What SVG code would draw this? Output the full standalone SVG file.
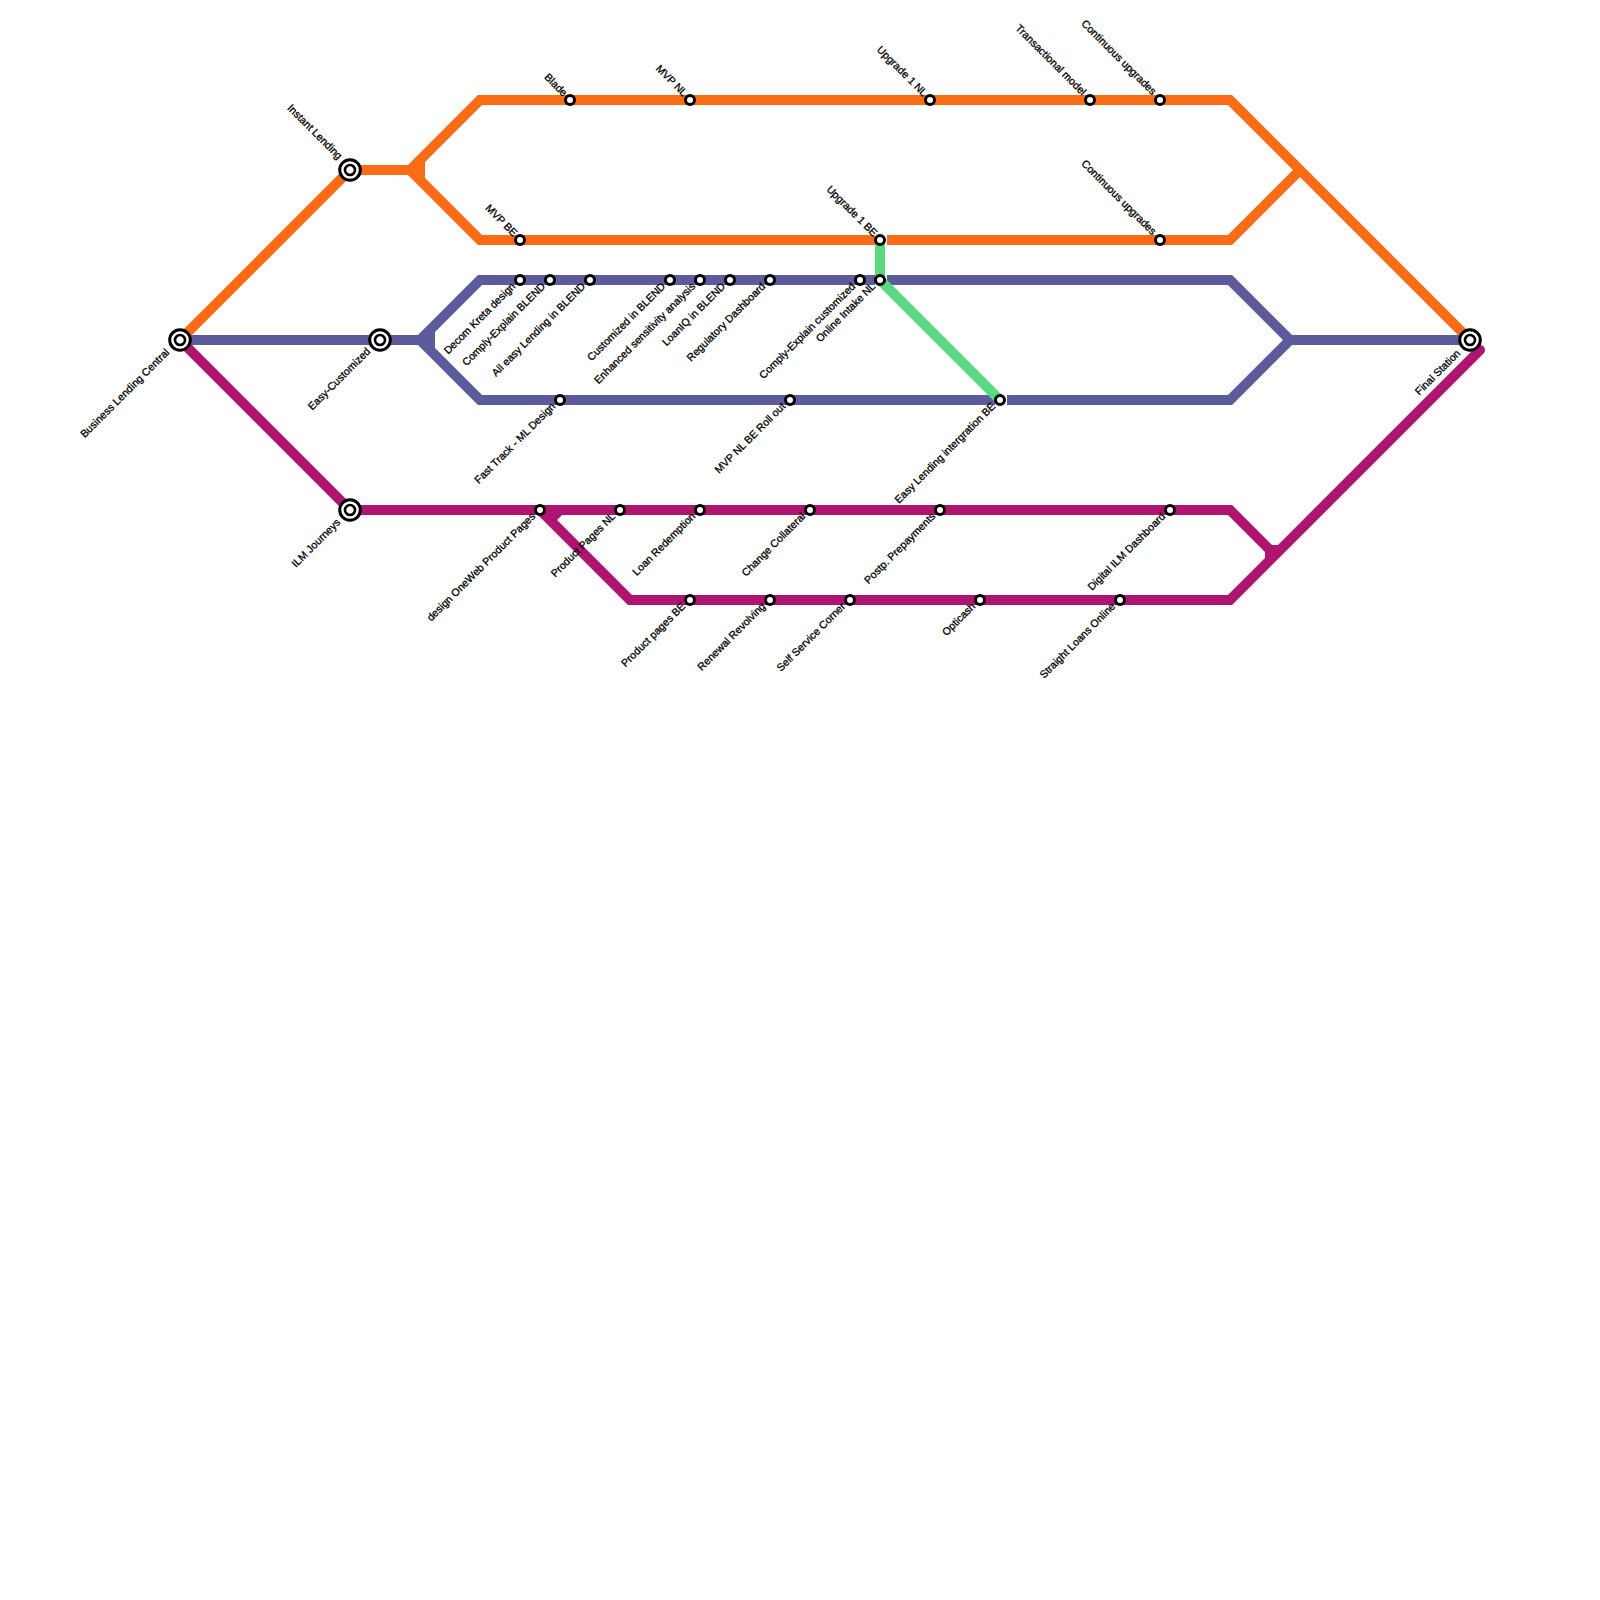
<svg xmlns="http://www.w3.org/2000/svg" width="1600" height="1600" viewBox="0 0 1600 1600">
<style>
.l{fill:none;stroke-width:10;stroke-linejoin:miter;stroke-linecap:butt}
.o{stroke:#f96b15}.b{stroke:#5c5c9c}.m{stroke:#ae1470}.g{stroke:#5ada80}
.s{fill:#fff;stroke:#000;stroke-width:3}
.r{stroke-width:2.6}
text{font-family:"Liberation Sans",Arial,sans-serif;font-size:10.6px;fill:#000;stroke:#000;stroke-width:.3;text-anchor:end;text-rendering:geometricPrecision}
</style>
<defs>
<g id="st"><circle class="s" r="4.5"/></g>
<g id="big"><circle class="s" r="10.3"/><circle class="s r" r="5"/></g>
</defs>
<rect width="1600" height="1600" fill="#fff"/>
<g id="connectors">
<path class="l o" d="M180 340L350 170H420"/>
<path class="l o" d="M410 170L480 240H875"/>
<path class="l o" d="M410 170L480 100H1230L1470 340"/>
<path class="l o" d="M420 160V180"/>
<path class="l o" d="M887 240H1230L1300 170"/>
<path class="l b" d="M180 340H430"/>
<path class="l b" d="M875 280H480L420 340"/>
<path class="l b" d="M420 340L480 400H995"/>
<path class="l b" d="M430 330V350"/>
<path class="l b" d="M887 280H1230L1290 340H1470"/>
<path class="l b" d="M1007 400H1230L1290 340"/>
<path class="l m" d="M180 340L350 510H1230L1270 550"/>
<path class="l m" d="M540 510L630 600H1230L1480 350" style="stroke-linecap:round"/>
<path class="l m" d="M550 520L560 510"/>
<path class="l m" d="M1270 560V550H1280"/>
<path class="l g" d="M880 240V280L1000 400"/>
</g>
<g id="n-business"><use href="#big" x="180" y="340"/><text transform="translate(170 353) rotate(-45)">Business Lending Central</text></g>
<g id="n-instant"><use href="#big" x="350" y="170"/><text transform="translate(338 160) rotate(45)">Instant Lending</text></g>
<g id="n-easy"><use href="#big" x="380" y="340"/><text transform="translate(371 352) rotate(-45)">Easy-Customized</text></g>
<g id="n-ilm"><use href="#big" x="350" y="510"/><text transform="translate(341 523) rotate(-45)">ILM Journeys</text></g>
<g id="n-final"><use href="#big" x="1470" y="340"/><text transform="translate(1461 354) rotate(-45)">Final Station</text></g>
<g id="n-blade"><use href="#st" x="570" y="100"/><text transform="translate(563 97) rotate(45)">Blade</text></g>
<g id="n-mvpnl"><use href="#st" x="690" y="100"/><text transform="translate(683 97) rotate(45)">MVP NL</text></g>
<g id="n-up1nl"><use href="#st" x="930" y="100"/><text transform="translate(923 97) rotate(45)">Upgrade 1 NL</text></g>
<g id="n-trans"><use href="#st" x="1090" y="100"/><text transform="translate(1082 96) rotate(45)">Transactional model</text></g>
<g id="n-cont1"><use href="#st" x="1160" y="100"/><text transform="translate(1152 95.500) rotate(45)">Continuous upgrades</text></g>
<g id="n-mvpbe"><use href="#st" x="520" y="240"/><text transform="translate(513 237) rotate(45)">MVP BE</text></g>
<g id="n-up1be"><use href="#st" x="880" y="240"/><text transform="translate(873 237) rotate(45)">Upgrade 1 BE</text></g>
<g id="n-cont2"><use href="#st" x="1160" y="240"/><text transform="translate(1152 235.500) rotate(45)">Continuous upgrades</text></g>
<g id="n-decom"><use href="#st" x="520" y="280"/><text transform="translate(516 287) rotate(-45)">Decom Kreta design</text></g>
<g id="n-comply"><use href="#st" x="550" y="280"/><text transform="translate(546 287) rotate(-45)">Comply-Explain BLEND</text></g>
<g id="n-alleasy"><use href="#st" x="590" y="280"/><text transform="translate(586 287) rotate(-45)">All easy Lending in BLEND</text></g>
<g id="n-custom"><use href="#st" x="670" y="280"/><text transform="translate(666 287) rotate(-45)">Customized in BLEND</text></g>
<g id="n-enh"><use href="#st" x="700" y="280"/><text transform="translate(696 287) rotate(-45)">Enhanced sensitivity analysis</text></g>
<g id="n-loaniq"><use href="#st" x="730" y="280"/><text transform="translate(726 287) rotate(-45)">LoanIQ in BLEND</text></g>
<g id="n-reg"><use href="#st" x="770" y="280"/><text transform="translate(766 287) rotate(-45)">Regulatory Dashboard</text></g>
<g id="n-comply2"><use href="#st" x="860" y="280"/><text transform="translate(856 287) rotate(-45)">Comply-Explain customized</text></g>
<g id="n-online"><use href="#st" x="880" y="280"/><text transform="translate(876 287) rotate(-45)">Online Intake NL</text></g>
<g id="n-fast"><use href="#st" x="560" y="400"/><text transform="translate(556 407) rotate(-45)">Fast Track - ML Design</text></g>
<g id="n-mvpnlbe"><use href="#st" x="790" y="400"/><text transform="translate(786 407) rotate(-45)">MVP NL BE Roll out</text></g>
<g id="n-easylend"><use href="#st" x="1000" y="400"/><text transform="translate(996 407) rotate(-45)">Easy Lending intergration BE</text></g>
<g id="n-design"><use href="#st" x="540" y="510"/><text transform="translate(536 517) rotate(-45)">design OneWeb Product Pages</text></g>
<g id="n-ppnl"><use href="#st" x="620" y="510"/><text transform="translate(616 517) rotate(-45)">Product Pages NL</text></g>
<g id="n-loanred"><use href="#st" x="700" y="510"/><text transform="translate(696 517) rotate(-45)">Loan Redemption</text></g>
<g id="n-change"><use href="#st" x="810" y="510"/><text transform="translate(806 517) rotate(-45)">Change Collateral</text></g>
<g id="n-postp"><use href="#st" x="940" y="510"/><text transform="translate(936 517) rotate(-45)">Postp. Prepayments</text></g>
<g id="n-digital"><use href="#st" x="1170" y="510"/><text transform="translate(1166 517) rotate(-45)">Digital ILM Dashboard</text></g>
<g id="n-ppbe"><use href="#st" x="690" y="600"/><text transform="translate(686 607) rotate(-45)">Product pages BE</text></g>
<g id="n-renewal"><use href="#st" x="770" y="600"/><text transform="translate(766 607) rotate(-45)">Renewal Revolving</text></g>
<g id="n-self"><use href="#st" x="850" y="600"/><text transform="translate(846 607) rotate(-45)">Self Service Corner</text></g>
<g id="n-opti"><use href="#st" x="980" y="600"/><text transform="translate(976 607) rotate(-45)">Opticash</text></g>
<g id="n-straight"><use href="#st" x="1120" y="600"/><text transform="translate(1116 607) rotate(-45)">Straight Loans Online</text></g>
</svg>
